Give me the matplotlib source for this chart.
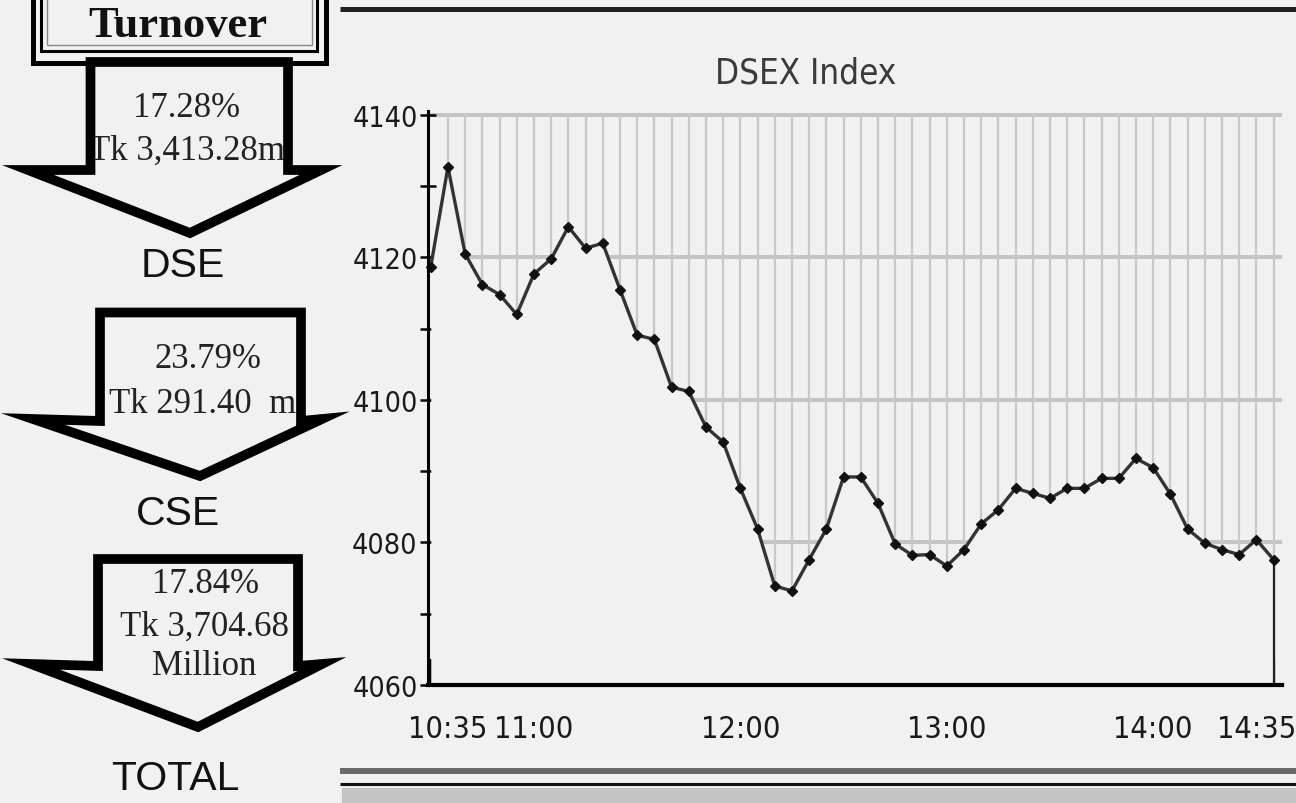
import matplotlib
matplotlib.use('Agg')
import matplotlib.pyplot as plt
from matplotlib.font_manager import FontProperties
from matplotlib.patches import Polygon, Rectangle
from matplotlib.transforms import ScaledTranslation

# DSEX intraday, 5 minute points
times = ['10:30', '10:35', '10:40', '10:45', '10:50', '10:55',
         '11:00', '11:05', '11:10', '11:15', '11:20', '11:25',
         '11:30', '11:35', '11:40', '11:45', '11:50', '11:55',
         '12:00', '12:05', '12:10', '12:15', '12:20', '12:25',
         '12:30', '12:35', '12:40', '12:45', '12:50', '12:55',
         '13:00', '13:05', '13:10', '13:15', '13:20', '13:25',
         '13:30', '13:35', '13:40', '13:45', '13:50', '13:55',
         '14:00', '14:05', '14:10', '14:15', '14:20', '14:25',
         '14:30', '14:35']
dsex = [4118.7, 4132.7, 4120.5, 4116.2, 4114.8, 4112.0,
        4117.7, 4119.8, 4124.3, 4121.3, 4122.0, 4115.5,
        4109.1, 4108.5, 4101.8, 4101.2, 4096.2, 4094.1,
        4087.6, 4081.9, 4073.9, 4073.2, 4077.6, 4081.9,
        4089.2, 4089.2, 4085.5, 4079.8, 4078.2, 4078.3,
        4076.7, 4079.0, 4082.6, 4084.6, 4087.6, 4086.9,
        4086.2, 4087.6, 4087.6, 4089.0, 4089.0, 4091.8,
        4090.5, 4086.8, 4081.9, 4079.9, 4079.0, 4078.3,
        4080.4, 4077.6]
shown_times = ['10:35', '11:00', '12:00', '13:00', '14:00', '14:35']
y_labels = [4060, 4080, 4100, 4120, 4140]

# turnover panel
markets = ['DSE', 'CSE', 'TOTAL']
changes = ['17.28%', '23.79%', '17.84%']
amounts = ['Tk 3,413.28m', 'Tk 291.40  m', 'Tk 3,704.68']

bg = '#f1f1f1'
serif = 'Liberation Serif'
sans = 'Liberation Sans'


def narrow(size):
    return FontProperties(family='DejaVu Sans', stretch='condensed', size=size)


minutes = [int(t[:2]) * 60 + int(t[3:]) - 630 for t in times]

fig = plt.figure(figsize=(12.96, 8.04), dpi=100, facecolor=bg)

# overlay in pixel coordinates for the panel decorations
ov = fig.add_axes([0, 0, 1, 1], zorder=0)
ov.set_xlim(0, 1296)
ov.set_ylim(804, 0)
ov.axis('off')

# Turnover header box
ov.add_patch(Rectangle((32.5, -10), 293, 73.5, fill=False, ec='black', lw=3.6))
ov.add_patch(Rectangle((41, -10), 275.5, 61.5, fill=False, ec='black', lw=2.2))
ov.add_patch(Rectangle((46.5, -10), 265, 56, fill=False, ec='#888888', lw=1))
ov.text(178, 37, 'Turnover', family=serif, weight='bold', fontsize=32,
        ha='center', va='baseline', color='#111111')

arrows = [
    [(90.5, 63), (288, 63), (288, 171), (321, 171), (190, 234), (28, 171), (90.5, 171)],
    [(100, 313.5), (301, 313.5), (301, 422), (322, 420), (200, 477), (33, 420), (100, 422)],
    [(98, 560), (298, 560), (298, 667), (322, 665), (198, 728), (31, 665), (98, 667)],
]
for pts in arrows:
    ov.add_patch(Polygon(pts, closed=True, fc=bg, ec='none', zorder=1))
    ov.add_patch(Polygon(pts, closed=True, fill=False, ec='black', lw=7,
                         joinstyle='miter', zorder=3))

txt = dict(family=serif, fontsize=25, ha='center', va='baseline', color='#222222', zorder=2)
lab = dict(family=sans, fontsize=29.5, ha='center', va='baseline', color='#111111', zorder=2)
ov.text(187, 117, changes[0], **txt)
ov.text(187, 160, amounts[0], **txt)
ov.text(183, 277, markets[0], **lab)
ov.text(208, 368, changes[1], **txt)
ov.text(203, 413, amounts[1], **txt)
ov.text(178, 525, markets[1], **lab)
ov.text(206, 593, changes[2], **txt)
ov.text(204, 636, amounts[2], **txt)
ov.text(204, 675, 'Million', **txt)
ov.text(175, 790, markets[2], **lab)

# frame lines of the chart panel
ov.plot([340, 1296], [10, 10], color='#222222', lw=3.6, solid_capstyle='butt')
ov.plot([340, 1296], [772, 772], color='#6a6a6a', lw=4.3, solid_capstyle='butt')
ov.plot([340, 1296], [785, 785], color='#111111', lw=2.2, solid_capstyle='butt')
ov.add_patch(Rectangle((342, 789), 954, 20, color='#c4c4c4'))

ov.text(806, 83, 'DSEX Index', fontproperties=narrow(25),
        ha='center', va='baseline', color='#3a3a3a')

# index chart
ax = fig.add_axes([428 / 1296, 118 / 804, 854 / 1296, 574.3 / 804], zorder=1)
ax.patch.set_alpha(0)
ax.set_xlim(-0.8, 247.45)
ax.set_ylim(4060, 4140.6)

for v in y_labels[1:]:
    ax.axhline(v, color='#c4c4c4', lw=2.9, zorder=1)
for m in minutes[1:]:
    ax.plot([m, m], [4060, 4140], color='#c8c8c8', lw=1.6, zorder=1)

ax.fill_between(minutes, 4060, dsex, color=bg, lw=0, zorder=2)
ax.plot(minutes, dsex, color='#333333', lw=2.4, marker='D', ms=5,
        mfc='#111111', mec='#111111', zorder=4, clip_on=False)
ax.vlines(minutes[-1], 4060, dsex[-1], color='#222222', lw=1.6, zorder=3)

for side in ['top', 'right']:
    ax.spines[side].set_visible(False)
ax.spines['left'].set_linewidth(2.2)
ax.spines['bottom'].set_linewidth(3)
ax.spines['left'].set_zorder(5)
ax.spines['bottom'].set_zorder(5)

ax.set_xticks(minutes)
ax.set_xticklabels([t if t in shown_times else '' for t in times])
ax.tick_params(axis='x', direction='in', length=19, width=1.6, color='black',
               pad=21, labelcolor='#1a1a1a')
ax.set_yticks(y_labels)
ax.set_yticks([4070, 4090, 4110, 4130], minor=True)
ax.tick_params(axis='y', which='both', direction='inout', length=11, width=1.8,
               color='black', pad=2, labelcolor='#1a1a1a')
for t in ax.get_xticklabels():
    t.set_fontproperties(narrow(22))
for t in ax.get_yticklabels():
    t.set_fontproperties(narrow(20.5))

# keep the last time label inside the picture
last = ax.xaxis.get_major_ticks()[-1].label1
last.set_transform(last.get_transform() + ScaledTranslation(-17 / 100, 0, fig.dpi_scale_trans))

fig.savefig('out.png', dpi=100, facecolor=bg)
